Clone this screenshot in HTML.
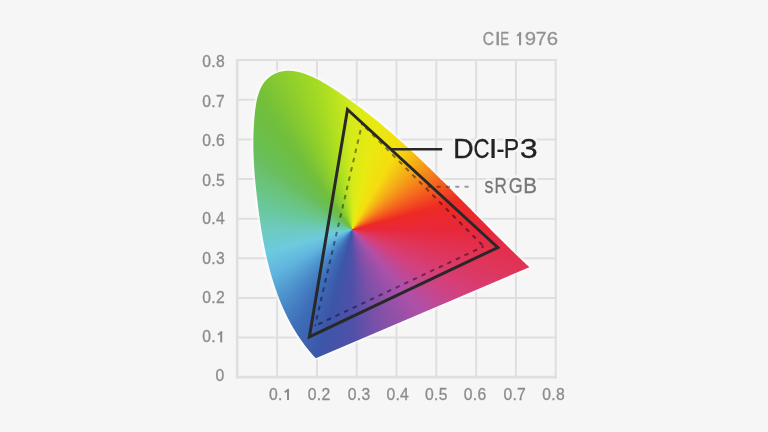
<!DOCTYPE html>
<html><head><meta charset="utf-8"><style>
html,body{margin:0;padding:0;width:768px;height:432px;overflow:hidden;background:#f6f6f6;}
.l{position:absolute;left:0;top:0;width:768px;height:432px;}
svg text{font-family:"Liberation Sans",sans-serif;}
#g{background:conic-gradient(from 0deg at 352.2px 229.5px, #d6ea1c 0deg, #e8ea10 12deg, #f5dc10 30deg, #f5a818 45deg, #f56a1e 60deg, #ee2a24 75deg, #e8283a 90deg, #e03458 103deg, #d4407c 120deg, #b050a8 139deg, #9a50a8 150deg, #7a50a8 166deg, #5050a8 180deg, #3c56a8 195deg, #3e6eb8 210deg, #4c90cc 225deg, #60b4de 240deg, #6ccade 255deg, #6ecac0 270deg, #68c898 285deg, #6bc274 300deg, #6abe64 305deg, #6abf50 313deg, #70be40 322deg, #74c03a 326deg, #8acc2e 335deg, #96d228 340deg, #b0e020 350deg, #d6ea1c 360deg);clip-path:path('M529.3,267.2 L315.8,358.3 L315.80,358.30 L314.69,357.09 L313.59,355.88 L312.51,354.66 L311.44,353.43 L310.39,352.20 L309.35,350.96 L308.33,349.70 L307.32,348.45 L306.32,347.18 L305.34,345.91 L304.37,344.63 L303.41,343.34 L302.47,342.05 L301.54,340.75 L300.62,339.45 L299.72,338.13 L298.83,336.81 L297.95,335.49 L297.09,334.15 L296.24,332.81 L295.40,331.47 L294.57,330.12 L293.76,328.76 L292.95,327.40 L292.16,326.03 L291.38,324.65 L290.62,323.27 L289.86,321.88 L289.12,320.49 L288.39,319.09 L287.66,317.69 L286.96,316.28 L286.26,314.87 L285.57,313.45 L284.89,312.03 L284.23,310.60 L283.57,309.16 L282.93,307.73 L282.29,306.28 L281.67,304.83 L281.06,303.38 L280.45,301.93 L279.86,300.46 L279.28,299.00 L278.70,297.53 L278.14,296.05 L277.58,294.58 L277.04,293.09 L276.50,291.61 L275.97,290.12 L275.46,288.62 L274.95,287.12 L274.45,285.62 L273.96,284.12 L273.47,282.61 L273.00,281.10 L272.54,279.59 L272.08,278.07 L271.63,276.55 L271.19,275.02 L270.76,273.50 L270.33,271.97 L269.91,270.43 L269.50,268.90 L269.10,267.36 L268.70,265.82 L268.32,264.28 L267.94,262.73 L267.56,261.18 L267.20,259.64 L266.84,258.08 L266.48,256.53 L266.14,254.97 L265.80,253.42 L265.46,251.86 L265.14,250.30 L264.81,248.73 L264.50,247.17 L264.19,245.60 L263.89,244.04 L263.59,242.47 L263.30,240.90 L263.01,239.33 L262.73,237.76 L262.45,236.19 L262.18,234.61 L261.91,233.04 L261.65,231.46 L261.40,229.89 L261.14,228.31 L260.90,226.74 L260.65,225.16 L260.41,223.58 L260.18,222.00 L259.95,220.43 L259.72,218.85 L259.50,217.27 L259.28,215.69 L259.07,214.12 L258.85,212.54 L258.65,210.96 L258.44,209.39 L258.24,207.81 L258.04,206.24 L257.85,204.66 L257.65,203.09 L257.46,201.52 L257.27,199.95 L257.09,198.38 L256.91,196.81 L256.73,195.24 L256.55,193.67 L256.38,192.10 L256.21,190.54 L256.04,188.97 L255.88,187.40 L255.72,185.84 L255.56,184.27 L255.41,182.71 L255.26,181.14 L255.12,179.58 L254.98,178.01 L254.84,176.45 L254.71,174.88 L254.59,173.31 L254.47,171.75 L254.35,170.18 L254.25,168.61 L254.14,167.04 L254.04,165.47 L253.95,163.90 L253.86,162.33 L253.78,160.76 L253.71,159.18 L253.64,157.61 L253.58,156.03 L253.52,154.45 L253.48,152.87 L253.44,151.29 L253.40,149.70 L253.37,148.12 L253.36,146.53 L253.34,144.94 L253.34,143.35 L253.34,141.75 L253.35,140.16 L253.37,138.56 L253.40,136.96 L253.44,135.35 L253.48,133.74 L253.54,132.13 L253.60,130.52 L253.67,128.91 L253.75,127.29 L253.84,125.66 L253.94,124.04 L254.05,122.41 L254.17,120.78 L254.30,119.14 L254.44,117.50 L254.59,115.86 L254.75,114.21 L254.92,112.56 L255.10,110.91 L255.30,109.26 L255.52,107.62 L255.76,105.98 L256.02,104.35 L256.31,102.73 L256.62,101.13 L256.96,99.54 L257.33,97.97 L257.73,96.42 L258.17,94.90 L258.65,93.39 L259.17,91.92 L259.72,90.48 L260.33,89.06 L260.97,87.69 L261.67,86.35 L262.42,85.05 L263.22,83.79 L264.07,82.58 L264.98,81.41 L265.96,80.29 L266.99,79.22 L268.08,78.21 L269.24,77.25 L270.46,76.35 L271.72,75.51 L273.04,74.73 L274.40,74.01 L275.80,73.36 L277.24,72.78 L278.71,72.27 L280.21,71.83 L281.74,71.46 L283.28,71.17 L284.84,70.96 L286.42,70.82 L288.00,70.77 L289.59,70.79 L291.18,70.88 L292.77,71.04 L294.36,71.25 L295.95,71.52 L297.54,71.84 L299.11,72.21 L300.68,72.62 L302.23,73.07 L303.77,73.55 L305.29,74.06 L306.80,74.60 L308.30,75.16 L309.78,75.76 L311.26,76.38 L312.71,77.03 L314.16,77.70 L315.60,78.39 L317.02,79.10 L318.44,79.83 L319.84,80.58 L321.24,81.35 L322.63,82.13 L324.01,82.93 L325.38,83.74 L326.75,84.57 L328.11,85.41 L329.46,86.25 L330.81,87.11 L332.16,87.97 L333.49,88.83 L334.83,89.71 L336.16,90.59 L337.49,91.47 L338.81,92.35 L340.13,93.24 L341.45,94.14 L342.76,95.04 L344.07,95.94 L345.38,96.85 L346.68,97.76 L347.98,98.68 L349.28,99.60 L350.57,100.52 L351.86,101.45 L353.14,102.39 L354.42,103.32 L355.70,104.26 L356.98,105.21 L358.25,106.16 L359.52,107.11 L360.79,108.06 L362.05,109.02 L363.31,109.99 L364.57,110.95 L365.82,111.92 L367.07,112.90 L368.32,113.88 L369.57,114.86 L370.81,115.84 L372.05,116.83 L373.29,117.82 L374.52,118.82 L375.75,119.81 L376.98,120.82 L378.21,121.82 L379.43,122.83 L380.65,123.84 L381.87,124.85 L383.09,125.87 L384.30,126.89 L385.51,127.91 L386.72,128.94 L387.93,129.97 L389.13,131.00 L390.33,132.03 L391.53,133.07 L392.73,134.11 L393.92,135.15 L395.11,136.20 L396.30,137.25 L397.49,138.30 L398.68,139.35 L399.86,140.41 L401.04,141.47 L402.22,142.53 L403.40,143.59 L404.57,144.65 L405.75,145.72 L406.92,146.79 L408.09,147.86 L409.26,148.94 L410.42,150.02 L411.59,151.09 L412.75,152.17 L413.91,153.26 L415.07,154.34 L416.23,155.43 L417.38,156.52 L418.54,157.61 L419.69,158.70 L420.84,159.79 L421.99,160.89 L423.14,161.99 L424.29,163.09 L425.44,164.19 L426.58,165.29 L427.72,166.39 L428.87,167.50 L430.01,168.61 L431.15,169.72 L432.28,170.83 L433.42,171.94 L434.56,173.05 L435.69,174.16 L436.83,175.28 L437.96,176.40 L439.09,177.51 L440.22,178.63 L441.35,179.75 L442.48,180.87 L443.61,181.99 L444.74,183.12 L445.86,184.24 L446.99,185.36 L448.11,186.49 L449.24,187.62 L450.36,188.74 L451.49,189.87 L452.61,191.00 L453.73,192.13 L454.85,193.26 L455.97,194.39 L457.09,195.52 L458.21,196.65 L459.33,197.78 L460.45,198.92 L461.57,200.05 L462.69,201.18 L463.81,202.31 L464.93,203.45 L466.04,204.58 L467.16,205.71 L468.28,206.85 L469.40,207.98 L470.51,209.12 L471.63,210.25 L472.75,211.39 L473.86,212.52 L474.98,213.65 L476.10,214.79 L477.22,215.92 L478.33,217.05 L479.45,218.19 L480.57,219.32 L481.69,220.45 L482.81,221.59 L483.93,222.72 L485.05,223.85 L486.16,224.98 L487.28,226.11 L488.40,227.24 L489.53,228.37 L490.65,229.50 L491.77,230.63 L492.89,231.75 L494.01,232.88 L495.14,234.00 L496.26,235.13 L497.39,236.25 L498.51,237.38 L499.64,238.50 L500.77,239.62 L501.90,240.74 L503.02,241.86 L504.15,242.98 L505.28,244.09 L506.42,245.21 L507.55,246.32 L508.68,247.43 L509.82,248.55 L510.95,249.66 L512.09,250.76 L513.23,251.87 L514.37,252.98 L515.51,254.08 L516.65,255.18 L517.79,256.29 L518.94,257.38 L520.08,258.48 L521.23,259.58 L522.38,260.67 L523.53,261.77 L524.68,262.86 L525.83,263.94 L526.99,265.03 L528.14,266.12 L529.30,267.20 Z');}
</style></head><body>
<svg class="l" width="768" height="432" viewBox="0 0 768 432" style="will-change:transform">
<rect width="768" height="432" fill="#f6f6f6"/>
<line x1="237.20" y1="59.10" x2="237.20" y2="378.50" stroke="#dfdfdf" stroke-width="2.7"/><line x1="277.10" y1="59.10" x2="277.10" y2="378.50" stroke="#dfdfdf" stroke-width="2"/><line x1="316.90" y1="59.10" x2="316.90" y2="378.50" stroke="#dfdfdf" stroke-width="2"/><line x1="356.70" y1="59.10" x2="356.70" y2="378.50" stroke="#dfdfdf" stroke-width="2"/><line x1="396.50" y1="59.10" x2="396.50" y2="378.50" stroke="#dfdfdf" stroke-width="2"/><line x1="436.30" y1="59.10" x2="436.30" y2="378.50" stroke="#dfdfdf" stroke-width="2"/><line x1="476.10" y1="59.10" x2="476.10" y2="378.50" stroke="#dfdfdf" stroke-width="2"/><line x1="515.90" y1="59.10" x2="515.90" y2="378.50" stroke="#dfdfdf" stroke-width="2"/><line x1="555.70" y1="59.10" x2="555.70" y2="378.50" stroke="#dfdfdf" stroke-width="2"/><line x1="236.00" y1="60.10" x2="556.70" y2="60.10" stroke="#dfdfdf" stroke-width="2"/><line x1="236.00" y1="99.74" x2="556.70" y2="99.74" stroke="#dfdfdf" stroke-width="2"/><line x1="236.00" y1="139.38" x2="556.70" y2="139.38" stroke="#dfdfdf" stroke-width="2"/><line x1="236.00" y1="179.01" x2="556.70" y2="179.01" stroke="#dfdfdf" stroke-width="2"/><line x1="236.00" y1="218.65" x2="556.70" y2="218.65" stroke="#dfdfdf" stroke-width="2"/><line x1="236.00" y1="258.29" x2="556.70" y2="258.29" stroke="#dfdfdf" stroke-width="2"/><line x1="236.00" y1="297.93" x2="556.70" y2="297.93" stroke="#dfdfdf" stroke-width="2"/><line x1="236.00" y1="337.56" x2="556.70" y2="337.56" stroke="#dfdfdf" stroke-width="2"/><line x1="236.00" y1="377.20" x2="556.70" y2="377.20" stroke="#dfdfdf" stroke-width="2.7"/>
<text transform="translate(202.29,67.20)" font-size="15.7" fill="#f6f6f6" stroke="#f6f6f6" stroke-width="5" stroke-linejoin="round">0</text><text transform="translate(211.32,67.20)" font-size="15.7" fill="#f6f6f6" stroke="#f6f6f6" stroke-width="5" stroke-linejoin="round">.</text><text transform="translate(215.98,67.20)" font-size="15.7" fill="#f6f6f6" stroke="#f6f6f6" stroke-width="5" stroke-linejoin="round">8</text><text transform="translate(202.29,106.80)" font-size="15.7" fill="#f6f6f6" stroke="#f6f6f6" stroke-width="5" stroke-linejoin="round">0</text><text transform="translate(211.32,106.80)" font-size="15.7" fill="#f6f6f6" stroke="#f6f6f6" stroke-width="5" stroke-linejoin="round">.</text><text transform="translate(215.98,106.80)" font-size="15.7" fill="#f6f6f6" stroke="#f6f6f6" stroke-width="5" stroke-linejoin="round">7</text><text transform="translate(202.29,145.60)" font-size="15.7" fill="#f6f6f6" stroke="#f6f6f6" stroke-width="5" stroke-linejoin="round">0</text><text transform="translate(211.32,145.60)" font-size="15.7" fill="#f6f6f6" stroke="#f6f6f6" stroke-width="5" stroke-linejoin="round">.</text><text transform="translate(215.98,145.60)" font-size="15.7" fill="#f6f6f6" stroke="#f6f6f6" stroke-width="5" stroke-linejoin="round">6</text><text transform="translate(202.29,185.60)" font-size="15.7" fill="#f6f6f6" stroke="#f6f6f6" stroke-width="5" stroke-linejoin="round">0</text><text transform="translate(211.32,185.60)" font-size="15.7" fill="#f6f6f6" stroke="#f6f6f6" stroke-width="5" stroke-linejoin="round">.</text><text transform="translate(215.98,185.60)" font-size="15.7" fill="#f6f6f6" stroke="#f6f6f6" stroke-width="5" stroke-linejoin="round">5</text><text transform="translate(202.29,223.60)" font-size="15.7" fill="#f6f6f6" stroke="#f6f6f6" stroke-width="5" stroke-linejoin="round">0</text><text transform="translate(211.32,223.60)" font-size="15.7" fill="#f6f6f6" stroke="#f6f6f6" stroke-width="5" stroke-linejoin="round">.</text><text transform="translate(215.98,223.60)" font-size="15.7" fill="#f6f6f6" stroke="#f6f6f6" stroke-width="5" stroke-linejoin="round">4</text><text transform="translate(202.29,264.10)" font-size="15.7" fill="#f6f6f6" stroke="#f6f6f6" stroke-width="5" stroke-linejoin="round">0</text><text transform="translate(211.32,264.10)" font-size="15.7" fill="#f6f6f6" stroke="#f6f6f6" stroke-width="5" stroke-linejoin="round">.</text><text transform="translate(215.98,264.10)" font-size="15.7" fill="#f6f6f6" stroke="#f6f6f6" stroke-width="5" stroke-linejoin="round">3</text><text transform="translate(202.29,302.70)" font-size="15.7" fill="#f6f6f6" stroke="#f6f6f6" stroke-width="5" stroke-linejoin="round">0</text><text transform="translate(211.32,302.70)" font-size="15.7" fill="#f6f6f6" stroke="#f6f6f6" stroke-width="5" stroke-linejoin="round">.</text><text transform="translate(215.98,302.70)" font-size="15.7" fill="#f6f6f6" stroke="#f6f6f6" stroke-width="5" stroke-linejoin="round">2</text><text transform="translate(202.29,342.40)" font-size="15.7" fill="#f6f6f6" stroke="#f6f6f6" stroke-width="5" stroke-linejoin="round">0</text><text transform="translate(211.32,342.40)" font-size="15.7" fill="#f6f6f6" stroke="#f6f6f6" stroke-width="5" stroke-linejoin="round">.</text><path d="M221.19,331.60 L221.19,342.40 M221.99,331.70 L217.89,334.66" fill="none" stroke="#f6f6f6" stroke-width="5.5" stroke-linejoin="round"/><text transform="translate(215.59,381.40)" font-size="15.7" fill="#f6f6f6" stroke="#f6f6f6" stroke-width="5" stroke-linejoin="round">0</text><text transform="translate(269.09,400.00)" font-size="15.7" fill="#f6f6f6" stroke="#f6f6f6" stroke-width="5" stroke-linejoin="round">0</text><text transform="translate(278.12,400.00)" font-size="15.7" fill="#f6f6f6" stroke="#f6f6f6" stroke-width="5" stroke-linejoin="round">.</text><path d="M287.99,389.20 L287.99,400.00 M288.79,389.30 L284.69,392.26" fill="none" stroke="#f6f6f6" stroke-width="5.5" stroke-linejoin="round"/><text transform="translate(307.79,400.00)" font-size="15.7" fill="#f6f6f6" stroke="#f6f6f6" stroke-width="5" stroke-linejoin="round">0</text><text transform="translate(316.82,400.00)" font-size="15.7" fill="#f6f6f6" stroke="#f6f6f6" stroke-width="5" stroke-linejoin="round">.</text><text transform="translate(321.48,400.00)" font-size="15.7" fill="#f6f6f6" stroke="#f6f6f6" stroke-width="5" stroke-linejoin="round">2</text><text transform="translate(347.69,400.00)" font-size="15.7" fill="#f6f6f6" stroke="#f6f6f6" stroke-width="5" stroke-linejoin="round">0</text><text transform="translate(356.72,400.00)" font-size="15.7" fill="#f6f6f6" stroke="#f6f6f6" stroke-width="5" stroke-linejoin="round">.</text><text transform="translate(361.38,400.00)" font-size="15.7" fill="#f6f6f6" stroke="#f6f6f6" stroke-width="5" stroke-linejoin="round">3</text><text transform="translate(386.39,400.00)" font-size="15.7" fill="#f6f6f6" stroke="#f6f6f6" stroke-width="5" stroke-linejoin="round">0</text><text transform="translate(395.42,400.00)" font-size="15.7" fill="#f6f6f6" stroke="#f6f6f6" stroke-width="5" stroke-linejoin="round">.</text><text transform="translate(400.08,400.00)" font-size="15.7" fill="#f6f6f6" stroke="#f6f6f6" stroke-width="5" stroke-linejoin="round">4</text><text transform="translate(424.99,400.00)" font-size="15.7" fill="#f6f6f6" stroke="#f6f6f6" stroke-width="5" stroke-linejoin="round">0</text><text transform="translate(434.02,400.00)" font-size="15.7" fill="#f6f6f6" stroke="#f6f6f6" stroke-width="5" stroke-linejoin="round">.</text><text transform="translate(438.68,400.00)" font-size="15.7" fill="#f6f6f6" stroke="#f6f6f6" stroke-width="5" stroke-linejoin="round">5</text><text transform="translate(463.79,400.00)" font-size="15.7" fill="#f6f6f6" stroke="#f6f6f6" stroke-width="5" stroke-linejoin="round">0</text><text transform="translate(472.82,400.00)" font-size="15.7" fill="#f6f6f6" stroke="#f6f6f6" stroke-width="5" stroke-linejoin="round">.</text><text transform="translate(477.48,400.00)" font-size="15.7" fill="#f6f6f6" stroke="#f6f6f6" stroke-width="5" stroke-linejoin="round">6</text><text transform="translate(503.39,400.00)" font-size="15.7" fill="#f6f6f6" stroke="#f6f6f6" stroke-width="5" stroke-linejoin="round">0</text><text transform="translate(512.42,400.00)" font-size="15.7" fill="#f6f6f6" stroke="#f6f6f6" stroke-width="5" stroke-linejoin="round">.</text><text transform="translate(517.08,400.00)" font-size="15.7" fill="#f6f6f6" stroke="#f6f6f6" stroke-width="5" stroke-linejoin="round">7</text><text transform="translate(542.19,400.00)" font-size="15.7" fill="#f6f6f6" stroke="#f6f6f6" stroke-width="5" stroke-linejoin="round">0</text><text transform="translate(551.22,400.00)" font-size="15.7" fill="#f6f6f6" stroke="#f6f6f6" stroke-width="5" stroke-linejoin="round">.</text><text transform="translate(555.88,400.00)" font-size="15.7" fill="#f6f6f6" stroke="#f6f6f6" stroke-width="5" stroke-linejoin="round">8</text><text transform="translate(482.81,45.20) scale(0.840,1)" font-size="18.60" fill="#f6f6f6" stroke="#f6f6f6" stroke-width="5" stroke-linejoin="round">C</text><text transform="translate(494.67,45.20) scale(1.181,1)" font-size="18.60" fill="#f6f6f6" stroke="#f6f6f6" stroke-width="5" stroke-linejoin="round">I</text><text transform="translate(500.31,45.20) scale(0.714,1)" font-size="18.60" fill="#f6f6f6" stroke="#f6f6f6" stroke-width="5" stroke-linejoin="round">E</text><text transform="translate(524.85,45.20) scale(1.094,1)" font-size="18.60" fill="#f6f6f6" stroke="#f6f6f6" stroke-width="5" stroke-linejoin="round">9</text><text transform="translate(535.81,45.20) scale(1.040,1)" font-size="18.60" fill="#f6f6f6" stroke="#f6f6f6" stroke-width="5" stroke-linejoin="round">7</text><text transform="translate(546.67,45.20) scale(1.095,1)" font-size="18.60" fill="#f6f6f6" stroke="#f6f6f6" stroke-width="5" stroke-linejoin="round">6</text><path d="M520.05,32.40 L520.05,45.20 M520.90,32.50 L517.10,35.86" fill="none" stroke="#f6f6f6" stroke-width="5.5" stroke-linejoin="round"/><text transform="translate(452.95,158.40) scale(1.034,1)" font-size="27.76" fill="#f6f6f6" stroke="#f6f6f6" stroke-width="5" stroke-linejoin="round">D</text><text transform="translate(473.47,158.40) scale(0.802,1)" font-size="27.76" fill="#f6f6f6" stroke="#f6f6f6" stroke-width="5" stroke-linejoin="round">C</text><text transform="translate(488.73,158.40) scale(1.120,1)" font-size="27.76" fill="#f6f6f6" stroke="#f6f6f6" stroke-width="5" stroke-linejoin="round">I</text><text transform="translate(496.44,158.40) scale(0.856,1)" font-size="27.76" fill="#f6f6f6" stroke="#f6f6f6" stroke-width="5" stroke-linejoin="round">-</text><text transform="translate(503.80,158.40) scale(0.832,1)" font-size="27.76" fill="#f6f6f6" stroke="#f6f6f6" stroke-width="5" stroke-linejoin="round">P</text><text transform="translate(519.67,158.40) scale(1.162,1)" font-size="27.76" fill="#f6f6f6" stroke="#f6f6f6" stroke-width="5" stroke-linejoin="round">3</text><text transform="translate(484.60,192.90) scale(0.820,1)" font-size="21.80" fill="#f6f6f6" stroke="#f6f6f6" stroke-width="5" stroke-linejoin="round">s</text><text transform="translate(494.59,192.90) scale(0.788,1)" font-size="21.80" fill="#f6f6f6" stroke="#f6f6f6" stroke-width="5" stroke-linejoin="round">R</text><text transform="translate(508.80,192.90) scale(0.822,1)" font-size="21.80" fill="#f6f6f6" stroke="#f6f6f6" stroke-width="5" stroke-linejoin="round">G</text><text transform="translate(523.20,192.90) scale(0.948,1)" font-size="21.80" fill="#f6f6f6" stroke="#f6f6f6" stroke-width="5" stroke-linejoin="round">B</text><text transform="translate(202.29,67.20)" font-size="15.7" fill="#8c8c8c" stroke="#8c8c8c" stroke-width="0.3">0</text><text transform="translate(211.32,67.20)" font-size="15.7" fill="#8c8c8c" stroke="#8c8c8c" stroke-width="0.3">.</text><text transform="translate(215.98,67.20)" font-size="15.7" fill="#8c8c8c" stroke="#8c8c8c" stroke-width="0.3">8</text><text transform="translate(202.29,106.80)" font-size="15.7" fill="#8c8c8c" stroke="#8c8c8c" stroke-width="0.3">0</text><text transform="translate(211.32,106.80)" font-size="15.7" fill="#8c8c8c" stroke="#8c8c8c" stroke-width="0.3">.</text><text transform="translate(215.98,106.80)" font-size="15.7" fill="#8c8c8c" stroke="#8c8c8c" stroke-width="0.3">7</text><text transform="translate(202.29,145.60)" font-size="15.7" fill="#8c8c8c" stroke="#8c8c8c" stroke-width="0.3">0</text><text transform="translate(211.32,145.60)" font-size="15.7" fill="#8c8c8c" stroke="#8c8c8c" stroke-width="0.3">.</text><text transform="translate(215.98,145.60)" font-size="15.7" fill="#8c8c8c" stroke="#8c8c8c" stroke-width="0.3">6</text><text transform="translate(202.29,185.60)" font-size="15.7" fill="#8c8c8c" stroke="#8c8c8c" stroke-width="0.3">0</text><text transform="translate(211.32,185.60)" font-size="15.7" fill="#8c8c8c" stroke="#8c8c8c" stroke-width="0.3">.</text><text transform="translate(215.98,185.60)" font-size="15.7" fill="#8c8c8c" stroke="#8c8c8c" stroke-width="0.3">5</text><text transform="translate(202.29,223.60)" font-size="15.7" fill="#8c8c8c" stroke="#8c8c8c" stroke-width="0.3">0</text><text transform="translate(211.32,223.60)" font-size="15.7" fill="#8c8c8c" stroke="#8c8c8c" stroke-width="0.3">.</text><text transform="translate(215.98,223.60)" font-size="15.7" fill="#8c8c8c" stroke="#8c8c8c" stroke-width="0.3">4</text><text transform="translate(202.29,264.10)" font-size="15.7" fill="#8c8c8c" stroke="#8c8c8c" stroke-width="0.3">0</text><text transform="translate(211.32,264.10)" font-size="15.7" fill="#8c8c8c" stroke="#8c8c8c" stroke-width="0.3">.</text><text transform="translate(215.98,264.10)" font-size="15.7" fill="#8c8c8c" stroke="#8c8c8c" stroke-width="0.3">3</text><text transform="translate(202.29,302.70)" font-size="15.7" fill="#8c8c8c" stroke="#8c8c8c" stroke-width="0.3">0</text><text transform="translate(211.32,302.70)" font-size="15.7" fill="#8c8c8c" stroke="#8c8c8c" stroke-width="0.3">.</text><text transform="translate(215.98,302.70)" font-size="15.7" fill="#8c8c8c" stroke="#8c8c8c" stroke-width="0.3">2</text><text transform="translate(202.29,342.40)" font-size="15.7" fill="#8c8c8c" stroke="#8c8c8c" stroke-width="0.3">0</text><text transform="translate(211.32,342.40)" font-size="15.7" fill="#8c8c8c" stroke="#8c8c8c" stroke-width="0.3">.</text><path d="M221.19,331.60 L221.19,342.40" fill="none" stroke="#8c8c8c" stroke-width="2.0"/><path d="M221.99,331.70 L217.89,334.66" fill="none" stroke="#8c8c8c" stroke-width="1.8"/><text transform="translate(215.59,381.40)" font-size="15.7" fill="#8c8c8c" stroke="#8c8c8c" stroke-width="0.3">0</text><text transform="translate(269.09,400.00)" font-size="15.7" fill="#8c8c8c" stroke="#8c8c8c" stroke-width="0.3">0</text><text transform="translate(278.12,400.00)" font-size="15.7" fill="#8c8c8c" stroke="#8c8c8c" stroke-width="0.3">.</text><path d="M287.99,389.20 L287.99,400.00" fill="none" stroke="#8c8c8c" stroke-width="2.0"/><path d="M288.79,389.30 L284.69,392.26" fill="none" stroke="#8c8c8c" stroke-width="1.8"/><text transform="translate(307.79,400.00)" font-size="15.7" fill="#8c8c8c" stroke="#8c8c8c" stroke-width="0.3">0</text><text transform="translate(316.82,400.00)" font-size="15.7" fill="#8c8c8c" stroke="#8c8c8c" stroke-width="0.3">.</text><text transform="translate(321.48,400.00)" font-size="15.7" fill="#8c8c8c" stroke="#8c8c8c" stroke-width="0.3">2</text><text transform="translate(347.69,400.00)" font-size="15.7" fill="#8c8c8c" stroke="#8c8c8c" stroke-width="0.3">0</text><text transform="translate(356.72,400.00)" font-size="15.7" fill="#8c8c8c" stroke="#8c8c8c" stroke-width="0.3">.</text><text transform="translate(361.38,400.00)" font-size="15.7" fill="#8c8c8c" stroke="#8c8c8c" stroke-width="0.3">3</text><text transform="translate(386.39,400.00)" font-size="15.7" fill="#8c8c8c" stroke="#8c8c8c" stroke-width="0.3">0</text><text transform="translate(395.42,400.00)" font-size="15.7" fill="#8c8c8c" stroke="#8c8c8c" stroke-width="0.3">.</text><text transform="translate(400.08,400.00)" font-size="15.7" fill="#8c8c8c" stroke="#8c8c8c" stroke-width="0.3">4</text><text transform="translate(424.99,400.00)" font-size="15.7" fill="#8c8c8c" stroke="#8c8c8c" stroke-width="0.3">0</text><text transform="translate(434.02,400.00)" font-size="15.7" fill="#8c8c8c" stroke="#8c8c8c" stroke-width="0.3">.</text><text transform="translate(438.68,400.00)" font-size="15.7" fill="#8c8c8c" stroke="#8c8c8c" stroke-width="0.3">5</text><text transform="translate(463.79,400.00)" font-size="15.7" fill="#8c8c8c" stroke="#8c8c8c" stroke-width="0.3">0</text><text transform="translate(472.82,400.00)" font-size="15.7" fill="#8c8c8c" stroke="#8c8c8c" stroke-width="0.3">.</text><text transform="translate(477.48,400.00)" font-size="15.7" fill="#8c8c8c" stroke="#8c8c8c" stroke-width="0.3">6</text><text transform="translate(503.39,400.00)" font-size="15.7" fill="#8c8c8c" stroke="#8c8c8c" stroke-width="0.3">0</text><text transform="translate(512.42,400.00)" font-size="15.7" fill="#8c8c8c" stroke="#8c8c8c" stroke-width="0.3">.</text><text transform="translate(517.08,400.00)" font-size="15.7" fill="#8c8c8c" stroke="#8c8c8c" stroke-width="0.3">7</text><text transform="translate(542.19,400.00)" font-size="15.7" fill="#8c8c8c" stroke="#8c8c8c" stroke-width="0.3">0</text><text transform="translate(551.22,400.00)" font-size="15.7" fill="#8c8c8c" stroke="#8c8c8c" stroke-width="0.3">.</text><text transform="translate(555.88,400.00)" font-size="15.7" fill="#8c8c8c" stroke="#8c8c8c" stroke-width="0.3">8</text><text transform="translate(482.81,45.20) scale(0.840,1)" font-size="18.60" fill="#929292" stroke="#929292" stroke-width="0.3">C</text><text transform="translate(494.67,45.20) scale(1.181,1)" font-size="18.60" fill="#929292" stroke="#929292" stroke-width="0.3">I</text><text transform="translate(500.31,45.20) scale(0.714,1)" font-size="18.60" fill="#929292" stroke="#929292" stroke-width="0.3">E</text><text transform="translate(524.85,45.20) scale(1.094,1)" font-size="18.60" fill="#929292" stroke="#929292" stroke-width="0.3">9</text><text transform="translate(535.81,45.20) scale(1.040,1)" font-size="18.60" fill="#929292" stroke="#929292" stroke-width="0.3">7</text><text transform="translate(546.67,45.20) scale(1.095,1)" font-size="18.60" fill="#929292" stroke="#929292" stroke-width="0.3">6</text><path d="M520.05,32.40 L520.05,45.20" fill="none" stroke="#929292" stroke-width="2.1"/><path d="M520.90,32.50 L517.10,35.86" fill="none" stroke="#929292" stroke-width="1.9"/><text transform="translate(452.95,158.40) scale(1.034,1)" font-size="27.76" fill="#222222" stroke="#222222" stroke-width="0.25">D</text><text transform="translate(473.47,158.40) scale(0.802,1)" font-size="27.76" fill="#222222" stroke="#222222" stroke-width="0.25">C</text><text transform="translate(488.73,158.40) scale(1.120,1)" font-size="27.76" fill="#222222" stroke="#222222" stroke-width="0.25">I</text><text transform="translate(496.44,158.40) scale(0.856,1)" font-size="27.76" fill="#222222" stroke="#222222" stroke-width="0.25">-</text><text transform="translate(503.80,158.40) scale(0.832,1)" font-size="27.76" fill="#222222" stroke="#222222" stroke-width="0.25">P</text><text transform="translate(519.67,158.40) scale(1.162,1)" font-size="27.76" fill="#222222" stroke="#222222" stroke-width="0.25">3</text><text transform="translate(484.60,192.90) scale(0.820,1)" font-size="21.80" fill="#787878" stroke="#787878" stroke-width="0.3">s</text><text transform="translate(494.59,192.90) scale(0.788,1)" font-size="21.80" fill="#787878" stroke="#787878" stroke-width="0.3">R</text><text transform="translate(508.80,192.90) scale(0.822,1)" font-size="21.80" fill="#787878" stroke="#787878" stroke-width="0.3">G</text><text transform="translate(523.20,192.90) scale(0.948,1)" font-size="21.80" fill="#787878" stroke="#787878" stroke-width="0.3">B</text>
<defs><filter id="bl" x="-10%" y="-10%" width="120%" height="120%"><feGaussianBlur stdDeviation="1.1"/></filter></defs><path d="M529.3,267.2 L315.8,358.3 L315.80,358.30 L314.69,357.09 L313.59,355.88 L312.51,354.66 L311.44,353.43 L310.39,352.20 L309.35,350.96 L308.33,349.70 L307.32,348.45 L306.32,347.18 L305.34,345.91 L304.37,344.63 L303.41,343.34 L302.47,342.05 L301.54,340.75 L300.62,339.45 L299.72,338.13 L298.83,336.81 L297.95,335.49 L297.09,334.15 L296.24,332.81 L295.40,331.47 L294.57,330.12 L293.76,328.76 L292.95,327.40 L292.16,326.03 L291.38,324.65 L290.62,323.27 L289.86,321.88 L289.12,320.49 L288.39,319.09 L287.66,317.69 L286.96,316.28 L286.26,314.87 L285.57,313.45 L284.89,312.03 L284.23,310.60 L283.57,309.16 L282.93,307.73 L282.29,306.28 L281.67,304.83 L281.06,303.38 L280.45,301.93 L279.86,300.46 L279.28,299.00 L278.70,297.53 L278.14,296.05 L277.58,294.58 L277.04,293.09 L276.50,291.61 L275.97,290.12 L275.46,288.62 L274.95,287.12 L274.45,285.62 L273.96,284.12 L273.47,282.61 L273.00,281.10 L272.54,279.59 L272.08,278.07 L271.63,276.55 L271.19,275.02 L270.76,273.50 L270.33,271.97 L269.91,270.43 L269.50,268.90 L269.10,267.36 L268.70,265.82 L268.32,264.28 L267.94,262.73 L267.56,261.18 L267.20,259.64 L266.84,258.08 L266.48,256.53 L266.14,254.97 L265.80,253.42 L265.46,251.86 L265.14,250.30 L264.81,248.73 L264.50,247.17 L264.19,245.60 L263.89,244.04 L263.59,242.47 L263.30,240.90 L263.01,239.33 L262.73,237.76 L262.45,236.19 L262.18,234.61 L261.91,233.04 L261.65,231.46 L261.40,229.89 L261.14,228.31 L260.90,226.74 L260.65,225.16 L260.41,223.58 L260.18,222.00 L259.95,220.43 L259.72,218.85 L259.50,217.27 L259.28,215.69 L259.07,214.12 L258.85,212.54 L258.65,210.96 L258.44,209.39 L258.24,207.81 L258.04,206.24 L257.85,204.66 L257.65,203.09 L257.46,201.52 L257.27,199.95 L257.09,198.38 L256.91,196.81 L256.73,195.24 L256.55,193.67 L256.38,192.10 L256.21,190.54 L256.04,188.97 L255.88,187.40 L255.72,185.84 L255.56,184.27 L255.41,182.71 L255.26,181.14 L255.12,179.58 L254.98,178.01 L254.84,176.45 L254.71,174.88 L254.59,173.31 L254.47,171.75 L254.35,170.18 L254.25,168.61 L254.14,167.04 L254.04,165.47 L253.95,163.90 L253.86,162.33 L253.78,160.76 L253.71,159.18 L253.64,157.61 L253.58,156.03 L253.52,154.45 L253.48,152.87 L253.44,151.29 L253.40,149.70 L253.37,148.12 L253.36,146.53 L253.34,144.94 L253.34,143.35 L253.34,141.75 L253.35,140.16 L253.37,138.56 L253.40,136.96 L253.44,135.35 L253.48,133.74 L253.54,132.13 L253.60,130.52 L253.67,128.91 L253.75,127.29 L253.84,125.66 L253.94,124.04 L254.05,122.41 L254.17,120.78 L254.30,119.14 L254.44,117.50 L254.59,115.86 L254.75,114.21 L254.92,112.56 L255.10,110.91 L255.30,109.26 L255.52,107.62 L255.76,105.98 L256.02,104.35 L256.31,102.73 L256.62,101.13 L256.96,99.54 L257.33,97.97 L257.73,96.42 L258.17,94.90 L258.65,93.39 L259.17,91.92 L259.72,90.48 L260.33,89.06 L260.97,87.69 L261.67,86.35 L262.42,85.05 L263.22,83.79 L264.07,82.58 L264.98,81.41 L265.96,80.29 L266.99,79.22 L268.08,78.21 L269.24,77.25 L270.46,76.35 L271.72,75.51 L273.04,74.73 L274.40,74.01 L275.80,73.36 L277.24,72.78 L278.71,72.27 L280.21,71.83 L281.74,71.46 L283.28,71.17 L284.84,70.96 L286.42,70.82 L288.00,70.77 L289.59,70.79 L291.18,70.88 L292.77,71.04 L294.36,71.25 L295.95,71.52 L297.54,71.84 L299.11,72.21 L300.68,72.62 L302.23,73.07 L303.77,73.55 L305.29,74.06 L306.80,74.60 L308.30,75.16 L309.78,75.76 L311.26,76.38 L312.71,77.03 L314.16,77.70 L315.60,78.39 L317.02,79.10 L318.44,79.83 L319.84,80.58 L321.24,81.35 L322.63,82.13 L324.01,82.93 L325.38,83.74 L326.75,84.57 L328.11,85.41 L329.46,86.25 L330.81,87.11 L332.16,87.97 L333.49,88.83 L334.83,89.71 L336.16,90.59 L337.49,91.47 L338.81,92.35 L340.13,93.24 L341.45,94.14 L342.76,95.04 L344.07,95.94 L345.38,96.85 L346.68,97.76 L347.98,98.68 L349.28,99.60 L350.57,100.52 L351.86,101.45 L353.14,102.39 L354.42,103.32 L355.70,104.26 L356.98,105.21 L358.25,106.16 L359.52,107.11 L360.79,108.06 L362.05,109.02 L363.31,109.99 L364.57,110.95 L365.82,111.92 L367.07,112.90 L368.32,113.88 L369.57,114.86 L370.81,115.84 L372.05,116.83 L373.29,117.82 L374.52,118.82 L375.75,119.81 L376.98,120.82 L378.21,121.82 L379.43,122.83 L380.65,123.84 L381.87,124.85 L383.09,125.87 L384.30,126.89 L385.51,127.91 L386.72,128.94 L387.93,129.97 L389.13,131.00 L390.33,132.03 L391.53,133.07 L392.73,134.11 L393.92,135.15 L395.11,136.20 L396.30,137.25 L397.49,138.30 L398.68,139.35 L399.86,140.41 L401.04,141.47 L402.22,142.53 L403.40,143.59 L404.57,144.65 L405.75,145.72 L406.92,146.79 L408.09,147.86 L409.26,148.94 L410.42,150.02 L411.59,151.09 L412.75,152.17 L413.91,153.26 L415.07,154.34 L416.23,155.43 L417.38,156.52 L418.54,157.61 L419.69,158.70 L420.84,159.79 L421.99,160.89 L423.14,161.99 L424.29,163.09 L425.44,164.19 L426.58,165.29 L427.72,166.39 L428.87,167.50 L430.01,168.61 L431.15,169.72 L432.28,170.83 L433.42,171.94 L434.56,173.05 L435.69,174.16 L436.83,175.28 L437.96,176.40 L439.09,177.51 L440.22,178.63 L441.35,179.75 L442.48,180.87 L443.61,181.99 L444.74,183.12 L445.86,184.24 L446.99,185.36 L448.11,186.49 L449.24,187.62 L450.36,188.74 L451.49,189.87 L452.61,191.00 L453.73,192.13 L454.85,193.26 L455.97,194.39 L457.09,195.52 L458.21,196.65 L459.33,197.78 L460.45,198.92 L461.57,200.05 L462.69,201.18 L463.81,202.31 L464.93,203.45 L466.04,204.58 L467.16,205.71 L468.28,206.85 L469.40,207.98 L470.51,209.12 L471.63,210.25 L472.75,211.39 L473.86,212.52 L474.98,213.65 L476.10,214.79 L477.22,215.92 L478.33,217.05 L479.45,218.19 L480.57,219.32 L481.69,220.45 L482.81,221.59 L483.93,222.72 L485.05,223.85 L486.16,224.98 L487.28,226.11 L488.40,227.24 L489.53,228.37 L490.65,229.50 L491.77,230.63 L492.89,231.75 L494.01,232.88 L495.14,234.00 L496.26,235.13 L497.39,236.25 L498.51,237.38 L499.64,238.50 L500.77,239.62 L501.90,240.74 L503.02,241.86 L504.15,242.98 L505.28,244.09 L506.42,245.21 L507.55,246.32 L508.68,247.43 L509.82,248.55 L510.95,249.66 L512.09,250.76 L513.23,251.87 L514.37,252.98 L515.51,254.08 L516.65,255.18 L517.79,256.29 L518.94,257.38 L520.08,258.48 L521.23,259.58 L522.38,260.67 L523.53,261.77 L524.68,262.86 L525.83,263.94 L526.99,265.03 L528.14,266.12 L529.30,267.20 Z" fill="#ffffff" stroke="#ffffff" stroke-width="3" stroke-linejoin="round" opacity="0.85" filter="url(#bl)"/>
</svg>
<div class="l" id="g"></div>
<svg class="l" width="768" height="432" viewBox="0 0 768 432">
<g fill="none" stroke="rgba(0,0,20,0.45)" stroke-width="2" stroke-dasharray="4.5 5">
<line x1="362" y1="124" x2="315" y2="325.8" stroke-dashoffset="3.23"/>
<line x1="315" y1="325.8" x2="483.7" y2="246.4" stroke-dashoffset="5.8"/>
<line x1="483.7" y1="246.4" x2="362" y2="124" stroke-dashoffset="7.75"/>
</g>
<line x1="468.6" y1="186.7" x2="426" y2="186.7" stroke="rgba(0,0,0,0.38)" stroke-width="2" stroke-dasharray="4 5.3"/>
<polygon points="347.5,109.5 497.8,247.5 309.4,336.8" fill="none" stroke="#282828" stroke-width="3" stroke-linejoin="miter"/>
<line x1="391" y1="149.3" x2="442.2" y2="149.3" stroke="#282828" stroke-width="2.5"/>
</svg>
</body></html>
